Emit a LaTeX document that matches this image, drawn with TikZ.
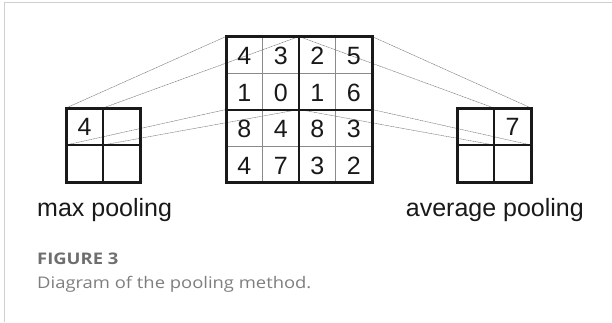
\documentclass[tikz,border=0pt]{standalone}
\usepackage{fontspec}
\setmainfont{Liberation Sans}
\newfontfamily\capfont[FakeStretch=1.15]{Open Sans}
\definecolor{frameg}{HTML}{CFCFCF}
\definecolor{capg}{HTML}{6E6E6E}
\definecolor{capl}{HTML}{7E7E7E}
\definecolor{thin}{HTML}{8A8A8A}
\begin{document}
\begin{tikzpicture}[x=1pt,y=-1pt,
  conn/.style={draw=black!55, line width=0.45pt, dash pattern=on 1.2pt off 0.5pt},
  outerbox/.style={draw=black!90, line width=3pt},
  midline/.style={draw=black!90, line width=2pt},
  thinline/.style={draw=thin, line width=0.9pt},
  digit/.style={anchor=base, inner sep=0pt, font=\fontsize{25}{29}\selectfont, text=black!90},
  lbl/.style={inner sep=0pt, font=\fontsize{25}{29}\selectfont, text=black!90},
  frame/.style={draw=frameg, line width=1.4pt}
]
\useasboundingbox (0,0) rectangle (612,322);
\draw[frame] (4.5,322) -- (4.5,2.7) -- (612,2.7);

% key points
\coordinate (Btl) at (226,36.5);
\coordinate (Btm) at (299,36.5);
\coordinate (Btr) at (372,36.5);
\coordinate (Bml) at (226,109.5);
\coordinate (Bc)  at (299,109.5);
\coordinate (Bmr) at (372,109.5);
\coordinate (Ltl) at (66,108);
\coordinate (Ltm) at (103,108);
\coordinate (Lml) at (66,145);
\coordinate (Lc)  at (103,145);
\coordinate (Rtm) at (494,108);
\coordinate (Rtr) at (531,108);
\coordinate (Rc)  at (494,145);
\coordinate (Rmr) at (531,145);

% connectors
\draw[conn] (Ltl) -- (Btl);
\draw[conn] (Ltm) -- (Btm);
\draw[conn] (Lml) -- (Bml);
\draw[conn] (Lc) -- (Bc);
\draw[conn] (Btr) -- (Rtr);
\draw[conn] (Btm) -- (Rtm);
\draw[conn] (Bmr) -- (Rmr);
\draw[conn] (Bc) -- (Rc);

% big grid
\draw[thinline] (262.5,36.5) -- (262.5,182.5) (335.5,36.5) -- (335.5,182.5)
                (226,73) -- (372,73) (226,146) -- (372,146);
\draw[midline] (299,36.5) -- (299,182.5) (226,109.5) -- (372,109.5);
\draw[outerbox] (226,36.5) rectangle (372,182.5);

% small grids
\draw[midline] (103,108) -- (103,182) (66,145) -- (140,145);
\draw[outerbox] (66,108) rectangle (140,182);
\draw[midline] (494,108) -- (494,182) (457,145) -- (531,145);
\draw[outerbox] (457,108) rectangle (531,182);

% digits
\foreach \r/\row in {0/{4,3,2,5},1/{1,0,1,6},2/{8,4,8,3},3/{4,7,3,2}}{
  \foreach \v [count=\c from 0] in \row {
    \node[digit] (d\r\c) at ({244.25+36.5*\c},{64.5+36.5*\r}) {\v};
  }
}
\node[digit] (lmax) at (84.5,135.5) {4};
\node[digit] (ravg) at (512.5,135.5) {7};

% labels
\node[lbl, anchor=base west] (maxl) at (37,216) {max pooling};
\node[lbl, anchor=base east] (avgl) at (584,216) {average pooling};

% caption
\node[anchor=base west, inner sep=0pt, text=capg, font=\capfont\bfseries\fontsize{16}{19}\selectfont] (fig) at (37,264) {FIGURE 3};
\node[anchor=base west, inner sep=0pt, text=capl, font=\capfont\fontsize{16}{19}\selectfont] (cap) at (37,288) {Diagram of the pooling method.};
\end{tikzpicture}
\end{document}
